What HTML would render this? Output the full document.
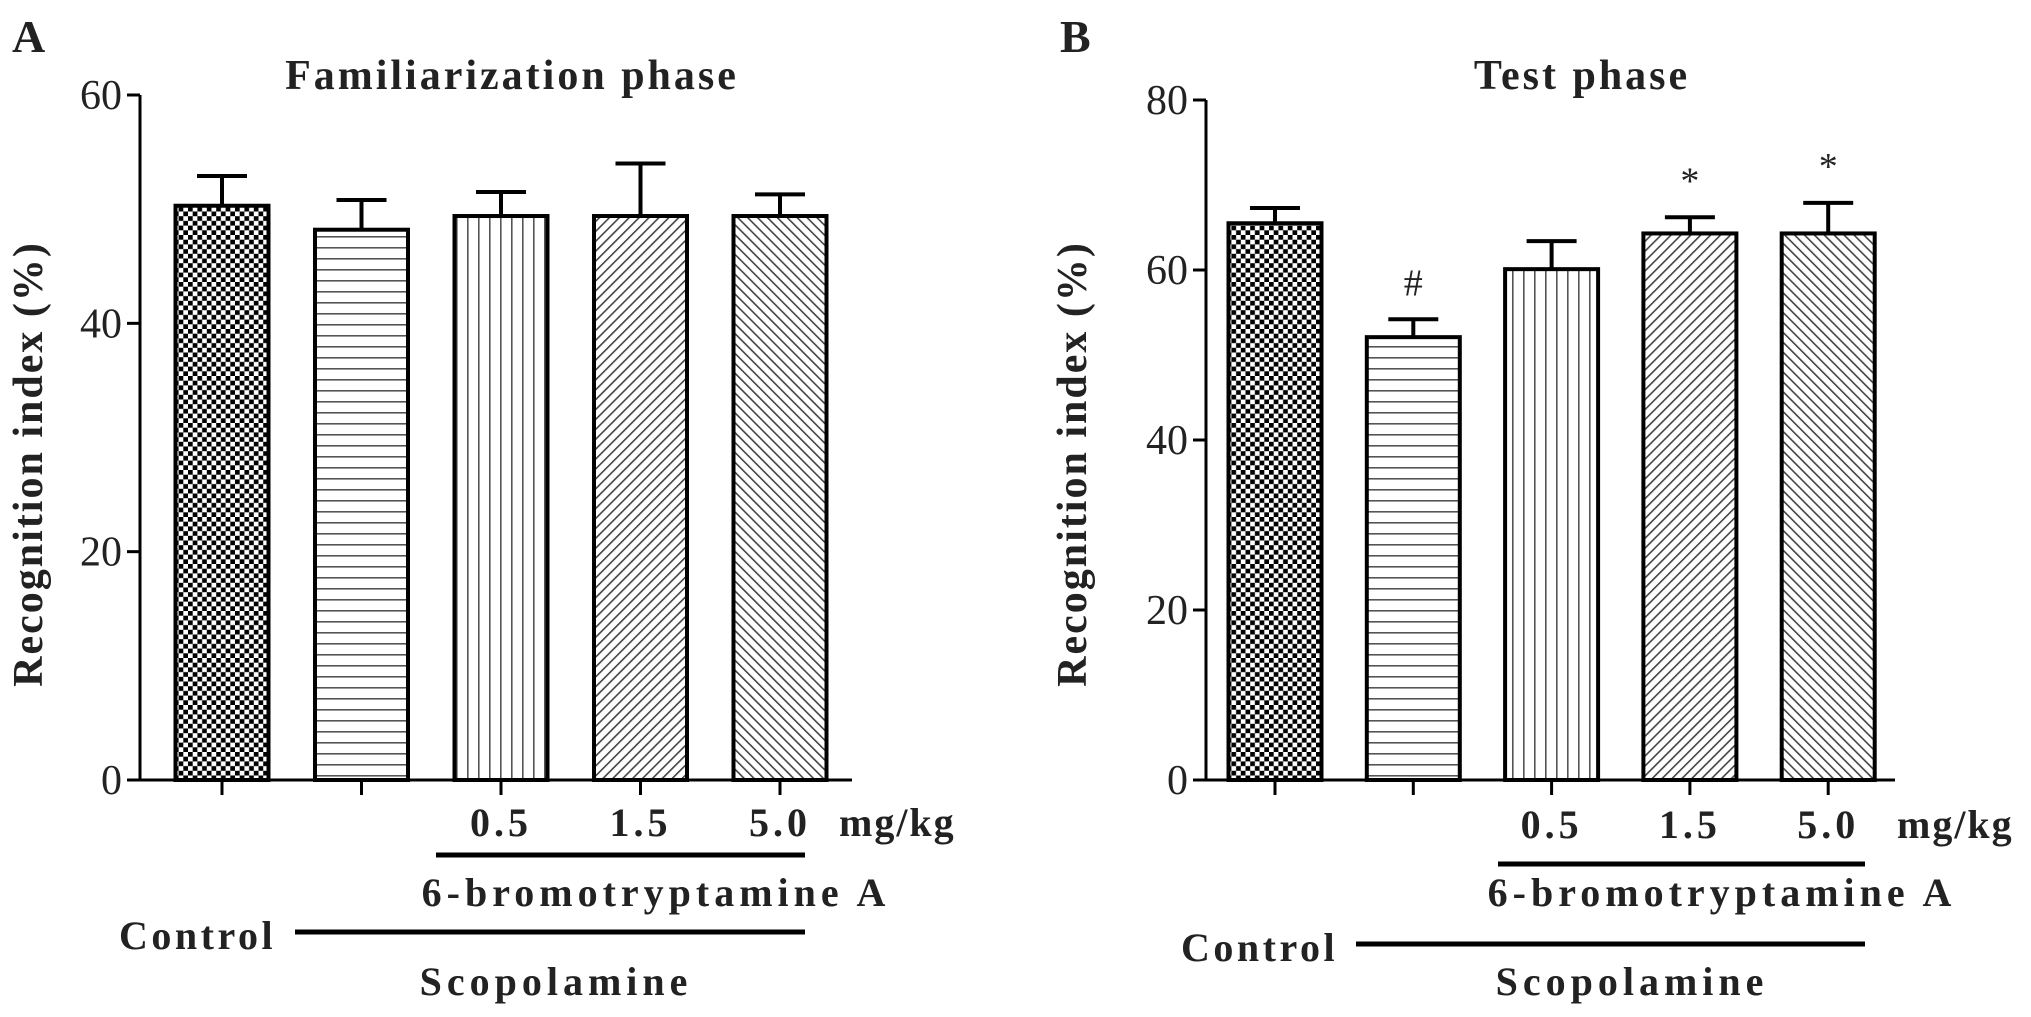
<!DOCTYPE html>
<html><head><meta charset="utf-8"><style>
html,body{margin:0;padding:0;background:#fff;}
svg{display:block;}
text{font-family:"Liberation Serif",serif;fill:#222;}
.b{font-weight:bold;}
</style></head><body>
<svg id="fig" width="2031" height="1017" viewBox="0 0 2031 1017" xmlns="http://www.w3.org/2000/svg">
<defs>
<pattern id="p0" width="9.4" height="9.4" patternUnits="userSpaceOnUse"><rect width="9.4" height="9.4" fill="#fff"/><rect width="4.7" height="4.7" fill="#000"/><rect x="4.7" y="4.7" width="4.7" height="4.7" fill="#000"/></pattern>
<pattern id="p1" width="10" height="11" patternUnits="userSpaceOnUse"><rect width="10" height="11" fill="#fff"/><rect y="5" width="10" height="1.6" fill="#555"/></pattern>
<pattern id="p2" width="11" height="10" patternUnits="userSpaceOnUse"><rect width="11" height="10" fill="#fff"/><rect x="5" width="1.6" height="10" fill="#555"/></pattern>
<pattern id="p3" width="7" height="7" patternUnits="userSpaceOnUse" patternTransform="rotate(45)"><rect width="7" height="7" fill="#fff"/><rect x="3" width="1.6" height="7" fill="#444"/></pattern>
<pattern id="p4" width="7" height="7" patternUnits="userSpaceOnUse" patternTransform="rotate(-45)"><rect width="7" height="7" fill="#fff"/><rect x="3" width="1.6" height="7" fill="#444"/></pattern>
</defs>
</svg>
<script>
const categories = ["Control", "Scopolamine", "0.5 mg/kg", "1.5 mg/kg", "5.0 mg/kg"];
const doseLabels = ["0.5", "1.5", "5.0"];
const familiarValues = [50.3, 48.2, 49.4, 49.4, 49.4];
const familiarErrors = [2.6, 2.6, 2.1, 4.6, 1.9];
const testValues = [65.5, 52.1, 60.1, 64.3, 64.3];
const testErrors = [1.8, 2.1, 3.3, 1.9, 3.6];
const testMarks = ["", "#", "", "*", "*"];
const familiarTicks = [0, 20, 40, 60];
const testTicks = [0, 20, 40, 60, 80];

const NS = "http://www.w3.org/2000/svg";
const svg = document.getElementById("fig");
function mk(tag, attrs, parent, txt) {
  const e = document.createElementNS(NS, tag);
  for (const k in attrs) e.setAttribute(k, attrs[k]);
  if (txt !== undefined) e.textContent = txt;
  (parent || svg).appendChild(e);
  return e;
}

function panel(cfg) {
  const g = mk("g", {});
  
  
  const y = v => cfg.y0 - (v / cfg.max) * (cfg.y0 - cfg.yTop);
  const x = i => cfg.x1 + i * cfg.step;
  const bw = 93;
  const L = mk("text", {x: cfg.letterX, y: 52, "font-size": 46, class: "b"}, g, cfg.letter);
  
  
  const T = mk("text", {x: cfg.titleX, y: 89, "font-size": 42, class: "b", "text-anchor": "middle", "letter-spacing": "3"}, g, cfg.title);
  
  
  cfg.values.forEach((v, i) => {
    const cx = x(i);
    const top = y(v), etop = y(v + cfg.errors[i]);
    const eg = mk("g", {}, g);
    
    
    mk("line", {x1: cx, x2: cx, y1: top, y2: etop, stroke: "#000", "stroke-width": 4}, eg);
    mk("line", {x1: cx - 25, x2: cx + 25, y1: etop, y2: etop, stroke: "#000", "stroke-width": 4}, eg);
    const r = mk("rect", {x: cx - bw / 2, y: top, width: bw, height: cfg.y0 - top, fill: "url(#p" + i + ")", stroke: "#000", "stroke-width": 4}, g);
    
    
    if (cfg.marks && cfg.marks[i]) {
      const m = mk("text", {x: cx, y: etop - 24, "font-size": 38, "text-anchor": "middle", fill: "#333"}, g, cfg.marks[i]);
      
      
    }
    const t = mk("line", {x1: cx, x2: cx, y1: cfg.y0, y2: cfg.y0 + 15, stroke: "#000", "stroke-width": 3}, g);
    
    
  });
  const ya = mk("line", {x1: cfg.ax, x2: cfg.ax, y1: cfg.yTop, y2: cfg.y0 + 1.5, stroke: "#000", "stroke-width": 3}, g);
  
  
  const xa = mk("line", {x1: cfg.ax, x2: cfg.axEnd, y1: cfg.y0, y2: cfg.y0, stroke: "#000", "stroke-width": 3}, g);
  
  
  cfg.ticks.forEach(v => {
    mk("line", {x1: cfg.ax - 13, x2: cfg.ax, y1: y(v), y2: y(v), stroke: "#000", "stroke-width": 3}, g);
    const tl = mk("text", {x: cfg.ax - 18, y: y(v) + 14, "font-size": 42, "text-anchor": "end", fill: "#333"}, g, v);
    
    
  });
  const yt = mk("text", {x: 0, y: 0, "font-size": 42, class: "b", "text-anchor": "middle", transform: "translate(" + cfg.yTitleX + ",464) rotate(-90)", "letter-spacing": "2"}, g, "Recognition index (%)");
  
  
  doseLabels.forEach((d, k) => {
    const dl = mk("text", {x: x(k + 2), y: cfg.doseY, "font-size": 40, class: "b", "text-anchor": "middle", "letter-spacing": "4", fill: "#333"}, g, d);
    
    
  });
  const mg = mk("text", {x: cfg.mgX, y: cfg.doseY, "font-size": 40, class: "b", "letter-spacing": "2", fill: "#333"}, g, "mg/kg");
  
  
  const l1 = mk("line", {x1: cfg.l1x, x2: cfg.lEnd, y1: cfg.l1y, y2: cfg.l1y, stroke: "#000", "stroke-width": 5}, g);
  
  
  const dn = mk("text", {x: cfg.drugX, y: cfg.drugY, "font-size": 40, class: "b", "text-anchor": "middle", "letter-spacing": "5", fill: "#333"}, g, "6-bromotryptamine A");
  
  
  const ct = mk("text", {x: cfg.ctrlX, y: cfg.ctrlY, "font-size": 40, class: "b", "letter-spacing": "3.5", fill: "#333"}, g, "Control");
  
  
  const l2 = mk("line", {x1: cfg.l2x, x2: cfg.lEnd, y1: cfg.l2y, y2: cfg.l2y, stroke: "#000", "stroke-width": 5}, g);
  
  
  const sc = mk("text", {x: cfg.scopX, y: 995, "font-size": 40, class: "b", "text-anchor": "middle", "letter-spacing": "5", fill: "#333"}, g, "Scopolamine");
  
  
}

panel({name: "panel-a-familiarization", letter: "A", letterX: 12, title: "Familiarization phase", titleX: 512,
  values: familiarValues, errors: familiarErrors, ticks: familiarTicks, max: 60,
  ax: 140, axEnd: 852, y0: 780, yTop: 95, x1: 222, step: 139.5, yTitleX: 42,
  doseY: 836, mgX: 839, l1x: 436, lEnd: 805, l1y: 855, drugX: 656, drugY: 906,
  ctrlX: 119, ctrlY: 949, l2x: 295, l2y: 932, scopX: 556});
panel({name: "panel-b-test", letter: "B", letterX: 1060, title: "Test phase", titleX: 1582,
  values: testValues, errors: testErrors, marks: testMarks, ticks: testTicks, max: 80,
  ax: 1206, axEnd: 1895, y0: 780, yTop: 100, x1: 1275, step: 138.3, yTitleX: 1086,
  doseY: 838, mgX: 1897, l1x: 1498, lEnd: 1865, l1y: 864, drugX: 1722, drugY: 906,
  ctrlX: 1181, ctrlY: 961, l2x: 1356, l2y: 944, scopX: 1632});
</script>
</body></html>
